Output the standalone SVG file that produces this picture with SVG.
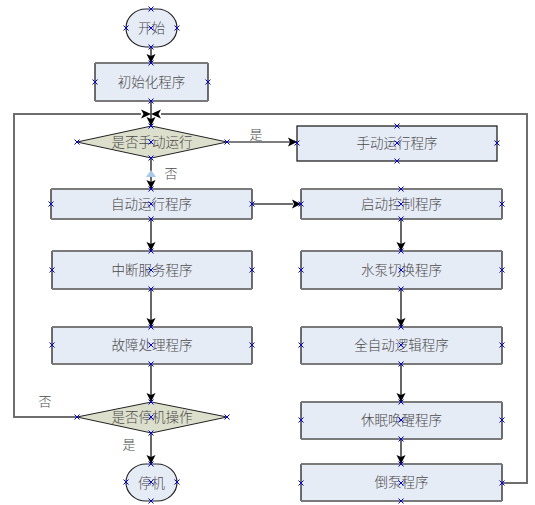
<svg xmlns="http://www.w3.org/2000/svg" xmlns:xlink="http://www.w3.org/1999/xlink" width="535" height="505" viewBox="0 0 535 505">
<style>
.box{fill:#e6ecf6;stroke:none}
.side{stroke:#111;stroke-width:1.2;fill:none}
.tb{stroke:#7a7a7a;stroke-width:2;fill:none}
.dia{fill:#dcdfcb;stroke:#222;stroke-width:1}
.term{fill:#e6ecf6;stroke:#222;stroke-width:1.2}
.t{font-family:"Noto Sans CJK SC","Noto Sans CJK JP",sans-serif;font-size:13.5px;font-weight:300;fill:#4a4a4a;text-anchor:middle;dominant-baseline:central}
.lab{font-family:"Noto Sans CJK SC","Noto Sans CJK JP",sans-serif;font-size:13px;font-weight:300;fill:#4a4a4a;text-anchor:middle;dominant-baseline:central}
.c{stroke:#000;stroke-width:1.2;fill:none}
.g{stroke:#6e6e6e;stroke-width:2;fill:none}
.x{stroke:#0000ee;stroke-width:1;fill:none}
</style>
<defs>
<marker id="ah" markerWidth="10" markerHeight="10" refX="9" refY="5" orient="auto" markerUnits="userSpaceOnUse">
<path d="M0,0.5 L9,5 L0,9.5 L2,5 Z" fill="#000"/>
</marker>
<path id="xm" d="M-2.5,-2.5 L2.5,2.5 M-2.5,2.5 L2.5,-2.5" class="x"/>
</defs>

<g id="connectors">
<path class="c" d="M151,47 V63" marker-end="url(#ah)"/>
<path class="c" d="M151,101 V126" marker-end="url(#ah)"/>
<path class="g" d="M77,417 H14 V114 H141"/>
<path d="M141,109.5 L151,114 L141,118.5 L143.5,114 Z" fill="#000"/>
<path class="g" d="M502,483 H527 V114 H161"/>
<path d="M161,109.5 L151,114 L161,118.5 L158.5,114 Z" fill="#000"/>
<path class="c" d="M227,142 H297" marker-end="url(#ah)"/>
<path class="c" d="M151,158 V189" marker-end="url(#ah)"/>
<path d="M146,177 L151,170 L156,177 Z" fill="#a8c8ec"/>
<path class="g" d="M252,204 H293"/>
<path d="M292,199.5 L301,204 L292,208.5 L294,204 Z" fill="#000"/>
<path class="c" d="M151,219 V251" marker-end="url(#ah)"/>
<path class="c" d="M151,289 V327" marker-end="url(#ah)"/>
<path class="c" d="M151,364 V402" marker-end="url(#ah)"/>
<path class="c" d="M151,433 V464" marker-end="url(#ah)"/>
<path class="c" d="M401,219 V251" marker-end="url(#ah)"/>
<path class="c" d="M401,289 V327" marker-end="url(#ah)"/>
<path class="c" d="M401,364 V402" marker-end="url(#ah)"/>
<path class="c" d="M401,439 V464" marker-end="url(#ah)"/>
<text class="lab" x="256" y="133">是</text>
<text class="lab" x="171" y="172">否</text>
<text class="lab" x="45" y="400">否</text>
<text class="lab" x="129" y="443">是</text>
</g>

<g id="start">
<rect class="term" x="126" y="9" width="51" height="38" rx="20" ry="19"/>
<text class="t" x="151.5" y="27">开始</text>
</g>

<g id="init">
<rect class="box" x="95" y="63" width="113" height="38"/>
<path class="side" d="M95,63 V101 M208,63 V101"/>
<path class="tb" d="M95,63 H208 M95,101 H208"/>
<text class="t" x="151.5" y="81">初始化程序</text>
</g>

<g id="manual-check">
<path class="dia" d="M77,142 L151.5,126 L227,142 L151.5,158 Z"/>
<text class="t" x="152" y="141">是否手动运行</text>
</g>

<g id="manual">
<rect class="box" x="297" y="126" width="200" height="35"/>
<rect x="297" y="126" width="200" height="35" fill="none" stroke="#111" stroke-width="1.2"/>
<text class="t" x="397" y="142">手动运行程序</text>
</g>

<g id="auto">
<rect class="box" x="51" y="189" width="201" height="30"/>
<path class="side" d="M51,189 V219 M252,189 V219"/>
<path class="tb" d="M51,189 H252 M51,219 H252"/>
<text class="t" x="151.5" y="203">自动运行程序</text>
</g>

<g id="startctl">
<rect class="box" x="301" y="189" width="201" height="30"/>
<path class="side" d="M301,189 V219 M502,189 V219"/>
<path class="tb" d="M301,189 H502 M301,219 H502"/>
<text class="t" x="401.5" y="203">启动控制程序</text>
</g>

<g id="interrupt">
<rect class="box" x="52" y="251" width="200" height="38"/>
<path class="side" d="M52,251 V289 M252,251 V289"/>
<path class="tb" d="M52,251 H252 M52,289 H252"/>
<text class="t" x="152" y="269">中断服务程序</text>
</g>

<g id="fault">
<rect class="box" x="52" y="327" width="200" height="37"/>
<path class="side" d="M52,327 V364 M252,327 V364"/>
<path class="tb" d="M52,327 H252 M52,364 H252"/>
<text class="t" x="152" y="344">故障处理程序</text>
</g>

<g id="stop-check">
<path class="dia" d="M77,417 L151.5,402 L227,417 L151.5,433 Z"/>
<text class="t" x="152" y="416">是否停机操作</text>
</g>

<g id="stop">
<rect class="term" x="126" y="464" width="51" height="37" rx="20" ry="18.5"/>
<text class="t" x="151.5" y="481.5">停机</text>
</g>

<g id="pump-switch">
<rect class="box" x="301" y="251" width="201" height="38"/>
<path class="side" d="M301,251 V289 M502,251 V289"/>
<path class="tb" d="M301,251 H502 M301,289 H502"/>
<text class="t" x="401.5" y="269">水泵切换程序</text>
</g>

<g id="full-auto">
<rect class="box" x="301" y="327" width="201" height="37"/>
<path class="side" d="M301,327 V364 M502,327 V364"/>
<path class="tb" d="M301,327 H502 M301,364 H502"/>
<text class="t" x="401.5" y="344">全自动逻辑程序</text>
</g>

<g id="sleep">
<rect class="box" x="301" y="402" width="201" height="37"/>
<path class="side" d="M301,402 V439 M502,402 V439"/>
<path class="tb" d="M301,402 H502 M301,439 H502"/>
<text class="t" x="401.5" y="419">休眠唤醒程序</text>
</g>

<g id="pump-rotate">
<rect class="box" x="301" y="464" width="201" height="37"/>
<path class="side" d="M301,464 V501 M502,464 V501"/>
<path class="tb" d="M301,464 H502 M301,501 H502"/>
<text class="t" x="401.5" y="481">倒泵程序</text>
</g>

<g id="connection-points">
<use xlink:href="#xm" x="151" y="9"/><use xlink:href="#xm" x="126" y="28"/><use xlink:href="#xm" x="177" y="28"/><use xlink:href="#xm" x="151" y="28"/><use xlink:href="#xm" x="151" y="47"/>
<use xlink:href="#xm" x="151" y="63"/><use xlink:href="#xm" x="95" y="82"/><use xlink:href="#xm" x="208" y="82"/><use xlink:href="#xm" x="151" y="101"/>
<use xlink:href="#xm" x="151" y="126"/><use xlink:href="#xm" x="77" y="142"/><use xlink:href="#xm" x="227" y="142"/><use xlink:href="#xm" x="151" y="142"/><use xlink:href="#xm" x="151" y="158"/>
<use xlink:href="#xm" x="397" y="126"/><use xlink:href="#xm" x="297" y="143"/><use xlink:href="#xm" x="497" y="143"/><use xlink:href="#xm" x="397" y="143"/><use xlink:href="#xm" x="397" y="161"/>
<use xlink:href="#xm" x="151" y="189"/><use xlink:href="#xm" x="51" y="204"/><use xlink:href="#xm" x="252" y="204"/><use xlink:href="#xm" x="151" y="204"/><use xlink:href="#xm" x="151" y="219"/>
<use xlink:href="#xm" x="401" y="189"/><use xlink:href="#xm" x="301" y="204"/><use xlink:href="#xm" x="502" y="204"/><use xlink:href="#xm" x="401" y="204"/><use xlink:href="#xm" x="401" y="219"/>
<use xlink:href="#xm" x="151" y="251"/><use xlink:href="#xm" x="52" y="270"/><use xlink:href="#xm" x="252" y="270"/><use xlink:href="#xm" x="151" y="270"/><use xlink:href="#xm" x="151" y="289"/>
<use xlink:href="#xm" x="151" y="327"/><use xlink:href="#xm" x="52" y="345"/><use xlink:href="#xm" x="252" y="345"/><use xlink:href="#xm" x="151" y="345"/><use xlink:href="#xm" x="151" y="364"/>
<use xlink:href="#xm" x="151" y="402"/><use xlink:href="#xm" x="77" y="417"/><use xlink:href="#xm" x="227" y="417"/><use xlink:href="#xm" x="151" y="417"/><use xlink:href="#xm" x="151" y="433"/>
<use xlink:href="#xm" x="151" y="464"/><use xlink:href="#xm" x="126" y="482"/><use xlink:href="#xm" x="177" y="482"/><use xlink:href="#xm" x="151" y="482"/><use xlink:href="#xm" x="151" y="501"/>
<use xlink:href="#xm" x="401" y="251"/><use xlink:href="#xm" x="301" y="270"/><use xlink:href="#xm" x="502" y="270"/><use xlink:href="#xm" x="401" y="270"/><use xlink:href="#xm" x="401" y="289"/>
<use xlink:href="#xm" x="401" y="327"/><use xlink:href="#xm" x="301" y="345"/><use xlink:href="#xm" x="502" y="345"/><use xlink:href="#xm" x="401" y="345"/><use xlink:href="#xm" x="401" y="364"/>
<use xlink:href="#xm" x="401" y="402"/><use xlink:href="#xm" x="301" y="420"/><use xlink:href="#xm" x="502" y="420"/><use xlink:href="#xm" x="401" y="420"/><use xlink:href="#xm" x="401" y="439"/>
<use xlink:href="#xm" x="401" y="464"/><use xlink:href="#xm" x="301" y="483"/><use xlink:href="#xm" x="502" y="483"/><use xlink:href="#xm" x="401" y="483"/><use xlink:href="#xm" x="401" y="501"/>
</g>
</svg>
